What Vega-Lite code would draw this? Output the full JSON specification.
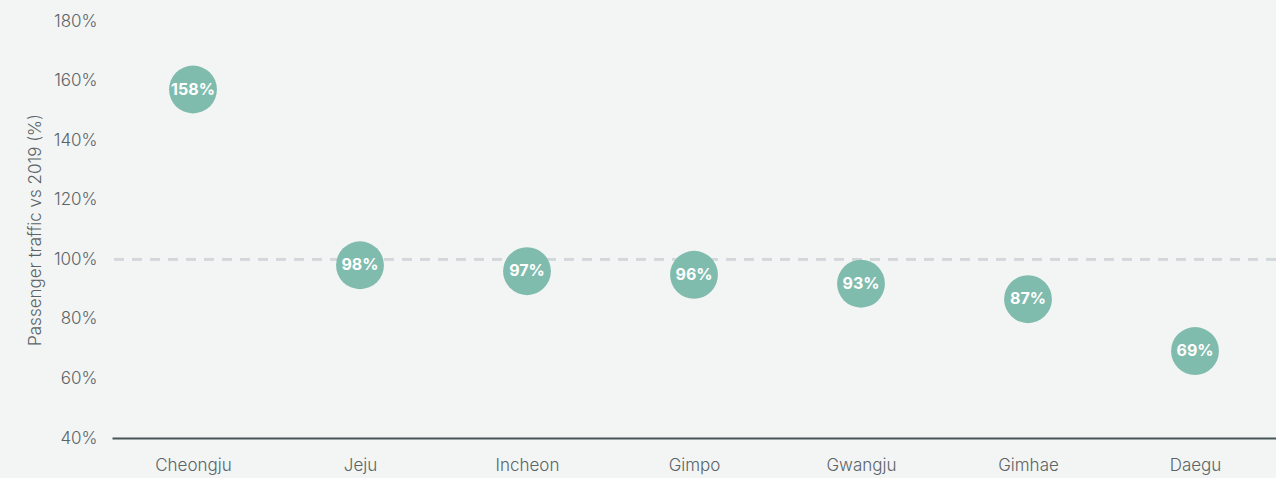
{
  "$schema": "https://vega.github.io/schema/vega-lite/v6.json",
  "width": 1164,
  "height": 417,
  "autosize": "none",
  "padding": {"left": 112, "top": 21, "right": 0, "bottom": 40},
  "background": "#f3f5f4",
  "config": {
    "view": {"stroke": null},
    "font": "Inter"
  },
  "data": {
    "values": [
      {"airport": "Cheongju", "value": 157.0, "label": "158%"},
      {"airport": "Jeju", "value": 98.0, "label": "98%"},
      {"airport": "Incheon", "value": 96.0, "label": "97%"},
      {"airport": "Gimpo", "value": 94.8, "label": "96%"},
      {"airport": "Gwangju", "value": 91.8, "label": "93%"},
      {"airport": "Gimhae", "value": 86.6, "label": "87%"},
      {"airport": "Daegu", "value": 69.2, "label": "69%"}
    ]
  },
  "encoding": {
    "x": {
      "field": "airport",
      "type": "nominal",
      "sort": null,
      "scale": {"type": "point", "padding": 0.485},
      "axis": {
        "title": null,
        "labelAngle": 0,
        "ticks": false,
        "grid": false,
        "domainColor": "#465457",
        "domainWidth": 2,
        "labelColor": "#5a6468",
        "labelFontSize": 17,
        "labelFont": "Inter",
        "labelFontWeight": 300,
        "labelPadding": 19
      }
    },
    "y": {
      "field": "value",
      "type": "quantitative",
      "scale": {"domain": [40, 180], "nice": false, "zero": false},
      "axis": {
        "title": "Passenger traffic vs 2019 (%)",
        "titleFontSize": 17,
        "titleFontWeight": 300,
        "titleColor": "#5a6468",
        "titleFont": "Inter",
        "titlePadding": 9,
        "values": [40, 60, 80, 100, 120, 140, 160, 180],
        "labelExpr": "datum.value + '%'",
        "labelColor": "#5a6468",
        "labelFontSize": 17,
        "labelFont": "Inter",
        "labelFontWeight": 300,
        "labelPadding": 15,
        "ticks": false,
        "domain": false,
        "grid": false
      }
    }
  },
  "layer": [
    {
      "mark": {"type": "rule", "color": "#d2d8da", "strokeWidth": 2, "strokeDash": [10, 8]},
      "encoding": {"y": {"datum": 100}, "x": null}
    },
    {
      "mark": {"type": "circle", "size": 2290, "opacity": 1, "color": "#80bcad"}
    },
    {
      "mark": {"type": "text", "color": "#ffffff", "fontSize": 16, "fontWeight": "bold", "font": "Inter"},
      "encoding": {"text": {"field": "label"}}
    }
  ]
}
